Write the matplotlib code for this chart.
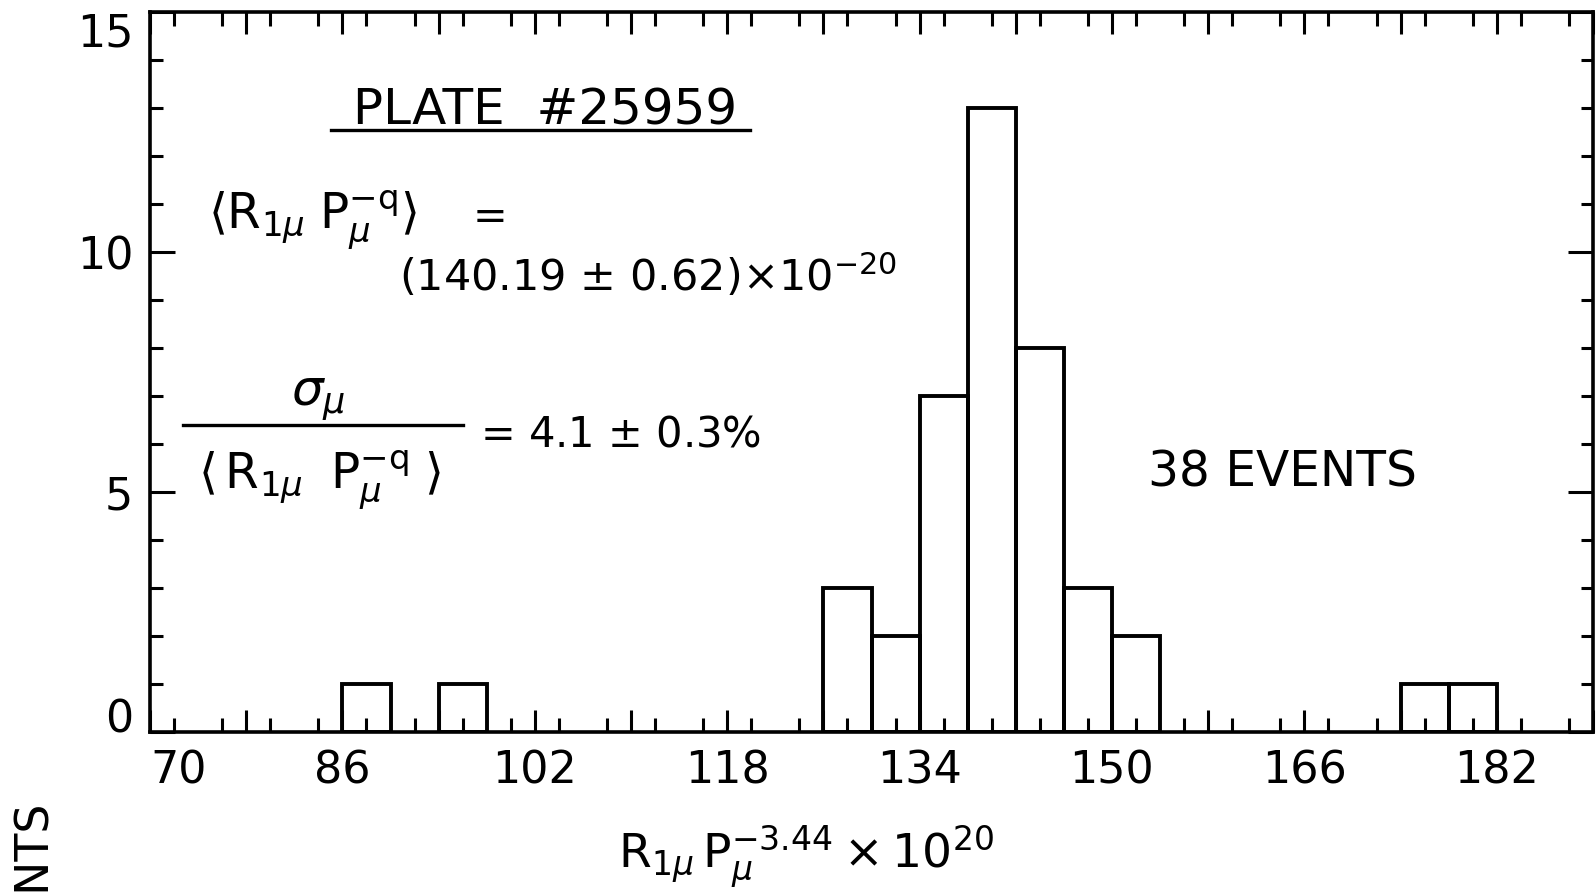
import matplotlib
matplotlib.use("Agg")
import matplotlib.pyplot as plt
from matplotlib.lines import Line2D
from matplotlib.ticker import MultipleLocator
import numpy as np

plt.rcParams['font.family'] = ['DejaVu Sans']
plt.rcParams['mathtext.fontset'] = 'dejavusans'

# ---- data ----
bin_left = [86, 94, 126, 130, 134, 138, 142, 146, 150, 174, 178]
counts = [1, 1, 3, 2, 7, 13, 8, 3, 2, 1, 1]
bin_width = 4
xtick_values = [70, 86, 102, 118, 134, 150, 166, 182]
xtick_labels = ["70", "86", "102", "118", "134", "150", "166", "182"]
ytick_values = [0, 5, 10, 15]
ytick_labels = ["0", "5", "10", "15"]

W, H = 1596, 895
fig = plt.figure(figsize=(W / 100, H / 100), dpi=100)
L, R, T, B = 150, 1593, 13, 733
ax = fig.add_axes([L / W, (H - B) / H, (R - L) / W, (B - T) / H])

ax.bar(bin_left, counts, width=bin_width, align='edge', fill=False,
       edgecolor='black', linewidth=2.8)

ax.set_xlim(70, 190.0)
ax.set_ylim(0, 15)

for s in ax.spines.values():
    s.set_linewidth(2.6)

major_x = list(np.arange(70, 191, 8))
ax.set_xticks(major_x)
ax.set_xticklabels([xtick_labels[xtick_values.index(v)] if v in xtick_values else "" for v in major_x])
ax.xaxis.set_minor_locator(MultipleLocator(4))
ax.set_yticks(ytick_values)
ax.set_yticklabels(ytick_labels)
ax.yaxis.set_minor_locator(MultipleLocator(1))

ax.tick_params(axis='x', which='major', direction='in', length=16, width=2.2,
               top=True, bottom=True, labelsize=32, pad=12)
ax.tick_params(axis='x', which='minor', direction='in', length=10, width=2.2,
               top=True, bottom=True)
ax.tick_params(axis='y', which='major', direction='in', length=18, width=2.2,
               left=True, right=True, labelsize=32, pad=12)
ax.tick_params(axis='y', which='minor', direction='in', length=9, width=2.2,
               left=True, right=True)
ax.get_xticklabels()[0].set_ha('left')
ylabs = ax.get_yticklabels()
ylabs[0].set_va('baseline')
ylabs[-1].set_va('top')


def fx(px):
    return (px - L) / (R - L)


def fy(py):
    return (B - py) / (B - T)


tr = ax.transAxes

# Title with underline
ax.text(fx(545), fy(125), "PLATE  #25959", transform=tr, ha='center', va='baseline', fontsize=36)
ax.add_line(Line2D([fx(331), fx(750)], [fy(131), fy(131)], transform=tr, color='black', lw=2.4))

# mean expression
ax.text(fx(208), fy(229), r"$\langle\mathrm{R}_{1\mu}\;\mathrm{P}_{\mu}^{-\mathrm{q}}\rangle$",
        transform=tr, ha='left', va='baseline', fontsize=35)
ax.text(fx(473), fy(229), "=", transform=tr, ha='left', va='baseline', fontsize=30)
ax.text(fx(399), fy(291), r"(140.19 $\pm$ 0.62)$\times$10$^{-20}$",
        transform=tr, ha='left', va='baseline', fontsize=31)

# fraction
ax.text(fx(318), fy(406), r"$\sigma_{\mu}$", transform=tr, ha='center', va='baseline', fontsize=36)
ax.add_line(Line2D([fx(183), fx(463)], [fy(426), fy(426)], transform=tr, color='black', lw=2.4))
ax.text(fx(198), fy(490), r"$\langle\,\mathrm{R}_{1\mu}\;\;\mathrm{P}_{\mu}^{-\mathrm{q}}\;\rangle$",
        transform=tr, ha='left', va='baseline', fontsize=35)
ax.text(fx(480), fy(447), r"= 4.1 $\pm$ 0.3%", transform=tr, ha='left', va='baseline', fontsize=30)

# events
ax.text(fx(1283), fy(487), "38 EVENTS", transform=tr, ha='center', va='baseline', fontsize=35)

# x label
fig.text(806 / W, 1 - 868 / H, r"$\mathrm{R}_{1\mu}\,\mathrm{P}_{\mu}^{-3.44}\times10^{20}$",
         ha='center', va='baseline', fontsize=34)

# y label (cut off at the bottom, as in the reference)
fig.text(37 / W, 1 - 804 / H, "NUMBER OF EVENTS", rotation=90, ha='center', va='top', fontsize=33)

fig.savefig("out.png", dpi=100)
